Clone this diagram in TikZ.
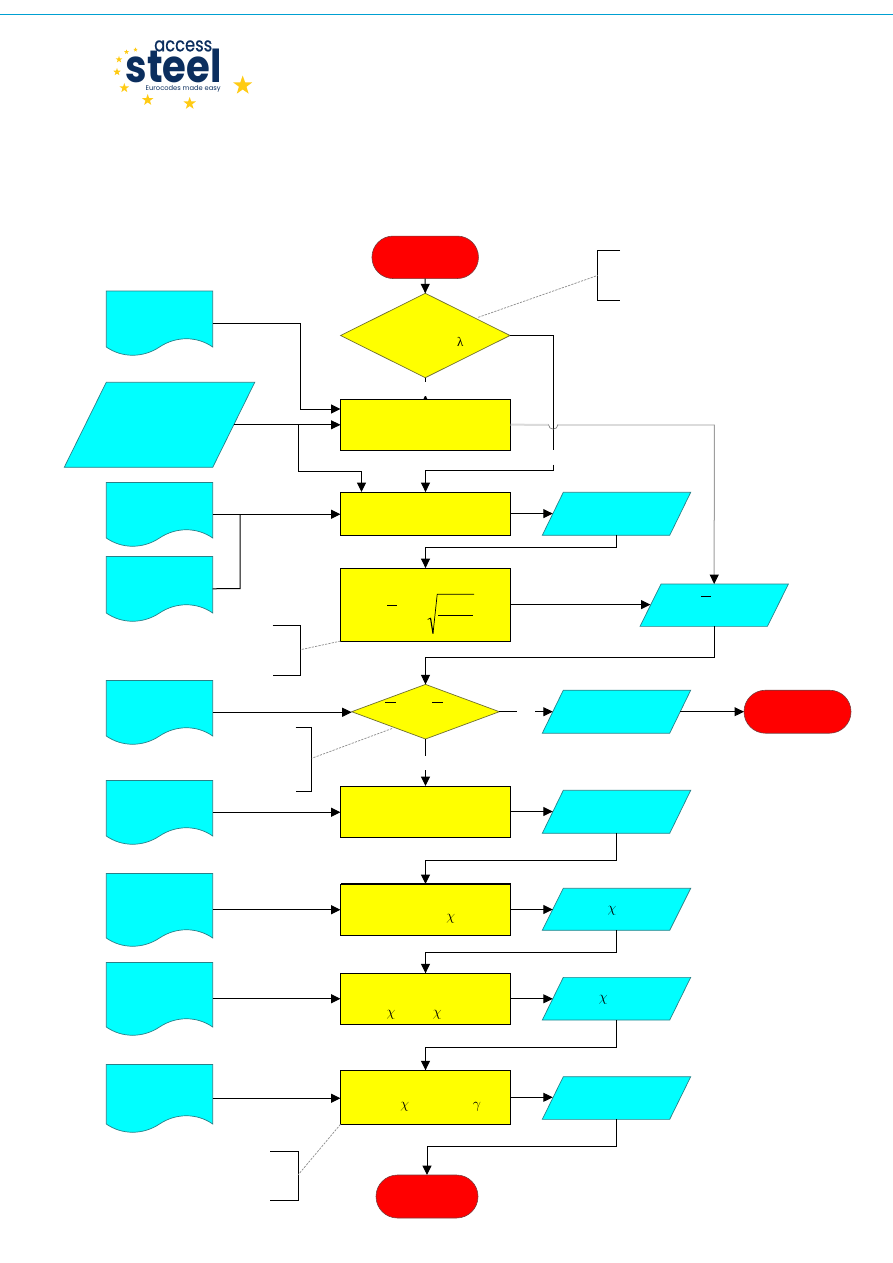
\documentclass[tikz,border=0pt]{standalone}
\usepackage{fontspec}
\usepackage{graphicx}
\setmainfont{Liberation Serif}
\newfontfamily\logofont{Poppins}
\newfontfamily\logofontmed[FakeBold=0.6]{Poppins}
\usetikzlibrary{shapes.geometric,shapes.misc,arrows.meta,calc}

\definecolor{flowcyan}{HTML}{00FFFF}
\definecolor{flowyellow}{HTML}{FFFF00}
\definecolor{flowred}{HTML}{FF0000}
\definecolor{cyanedge}{HTML}{2A8088}
\definecolor{yellowedge}{HTML}{6E6E30}
\definecolor{rededge}{HTML}{7A3A3A}
\definecolor{headrule}{HTML}{00A0D2}
\definecolor{logonavy}{HTML}{0B2E5E}
\definecolor{logostar}{HTML}{FFCB14}

\tikzset{
  tip/.tip={Triangle[length=9.5pt,width=9pt,color=black,fill=black]},
  flow/.style={draw=black,line width=1pt,-tip},
  plainflow/.style={draw=black,line width=1pt},
  note/.style={draw=black,line width=1pt},
  noteline/.style={draw=gray!90,line width=.7pt,dash pattern=on 2.2pt off 1.2pt},
  processbox/.style={rectangle,draw=black,line width=1pt,fill=flowyellow,inner sep=0pt,outer sep=0pt},
  decision/.style={diamond,draw=yellowedge,line width=.7pt,fill=flowyellow,inner sep=0pt,outer sep=0pt},
  terminal/.style={rounded rectangle,draw=rededge,line width=.6pt,fill=flowred,inner sep=0pt,outer sep=0pt},
  hiddenbox/.style={rectangle,inner sep=0pt,outer sep=0pt},
  shapefill/.style={draw=cyanedge,line width=.7pt,fill=flowcyan},
  greek/.style={inner sep=0pt,font=\fontsize{14}{14}\selectfont},
  uprightgreek/.style={inner sep=0pt,font=\fontsize{13}{13}\selectfont},
  logostarshape/.style={star,star points=5,star point ratio=2.5,fill=logostar,inner sep=0pt,outer sep=0pt},
}

% Input document: a named box with the wavy-bottomed outline drawn behind it
\newcommand{\inputdoc}[3]{%
  \node[hiddenbox,minimum width=106.4pt,minimum height=#3pt-#2pt] (#1) at (159.5,{(#2+#3)/2}) {};
  \coordinate (#1-r) at ($(#1.south east)+(0,-8)$);
  \coordinate (#1-l) at ($(#1.south west)+(0,-8)$);
  \coordinate (#1-m) at ($(#1-r)!.5!(#1-l)$);
  \path[shapefill] (#1.north west) -- (#1.north east) -- (#1-r)
    .. controls +(-15.7,-11) and +(16.5,-11) .. (#1-m)
    .. controls +(-16.5,11) and +(15.7,11) .. (#1-l) -- cycle;
}

% Data parallelogram: name, centre x, centre y, full width, height, slant offset
\newcommand{\datashape}[6]{%
  \node[hiddenbox,minimum width=#4pt,minimum height=#5pt] (#1) at (#2,#3) {};
  \coordinate (#1-w) at ($(#1.west)+(#6/2,0)$);
  \coordinate (#1-e) at ($(#1.east)+(-#6/2,0)$);
  \path[shapefill] ($(#1.north west)+(#6,0)$) -- (#1.north east)
    -- ($(#1.south east)+(-#6,0)$) -- (#1.south west) -- cycle;
}

\begin{document}
\begin{tikzpicture}[x=1pt,y=-1pt]
\useasboundingbox (0,0) rectangle (893,1263);
\fill[white] (0,0) rectangle (893,1263);

% Page header rule
\draw[headrule,line width=1.3pt] (0,14.5) -- (893,14.5);

% Logo
\node[inner sep=0pt,anchor=south west,text=logonavy] (logoaccess) at (154,51.7)
  {\resizebox{58pt}{11pt}{\logofontmed access}};
\node[inner sep=0pt,anchor=south west,text=logonavy] (logosteel) at (125.5,83)
  {\resizebox{96pt}{33.5pt}{\logofont\bfseries steel}};
\node[inner sep=0pt,anchor=base west,text=logonavy] (logotag) at (145.5,90.5)
  {\resizebox{75pt}{!}{\logofont Eurocodes made easy}};
\node[logostarshape,minimum size=20pt] (s1) at (242.7,85.5) {};
\node[logostarshape,minimum size=13pt] (s2) at (189.7,103.5) {};
\node[logostarshape,minimum size=12pt] (s3) at (147.7,100) {};
\node[logostarshape,minimum size=10pt] (s4) at (124.3,88) {};
\node[logostarshape,minimum size=8pt] (s5) at (117,72) {};
\node[logostarshape,minimum size=7pt] (s6) at (119,59.5) {};
\node[logostarshape,minimum size=5pt] (s7) at (126.5,52) {};
\node[logostarshape,minimum size=4.5pt] (s8) at (135.5,49.7) {};

% Annotation brackets
\coordinate (n1a) at (620,250.5); \coordinate (n1b) at (597.5,250.5);
\coordinate (n1c) at (597.5,300);  \coordinate (n1d) at (620,300);
\coordinate (n1m) at (597.5,275.5);
\coordinate (n2a) at (272.7,625.5); \coordinate (n2b) at (300.5,625.5);
\coordinate (n2c) at (300.5,675);  \coordinate (n2d) at (272.7,675);
\coordinate (n2m) at (300.5,649.7);
\coordinate (n3a) at (295.5,727.5); \coordinate (n3b) at (311.7,727.5);
\coordinate (n3c) at (311.7,791);  \coordinate (n3d) at (295.5,791);
\coordinate (n3m) at (311.7,758.3);
\coordinate (n4a) at (270,1151); \coordinate (n4b) at (298,1151);
\coordinate (n4c) at (298,1200);  \coordinate (n4d) at (270,1200);
\coordinate (n4m) at (298,1175);
\draw[note] (n1a) -- (n1b) -- (n1c) -- (n1d);
\draw[note] (n2a) -- (n2b) -- (n2c) -- (n2d);
\draw[note] (n3a) -- (n3b) -- (n3c) -- (n3d);
\draw[note] (n4a) -- (n4b) -- (n4c) -- (n4d);

% Input documents
\inputdoc{d1}{291}{355}
\inputdoc{d2}{482.5}{546}
\inputdoc{d3}{556.5}{621}
\inputdoc{d4}{680.5}{744}
\inputdoc{d5}{780.5}{844}
\inputdoc{d6}{873.5}{946}
\inputdoc{d7}{962.5}{1035}
\inputdoc{d8}{1064.5}{1132}

% Data parallelograms
\datashape{p1}{159.5}{424.8}{190.5}{85}{42}
\datashape{p2}{616.5}{513.8}{148.4}{43}{21}
\datashape{p3}{714.2}{605.2}{148.4}{42.3}{21}
\datashape{p4}{616.5}{711.7}{148.4}{43}{21}
\datashape{p5}{616.5}{811.8}{148.4}{43}{21}
\datashape{p6}{616.5}{909.3}{148.4}{42}{21}
\datashape{p7}{616.5}{998.7}{148.4}{42.7}{21}
\datashape{p8}{616.5}{1098}{148.4}{42.7}{21}

% Process boxes
\node[processbox,minimum width=170pt,minimum height=51pt] (b1) at (425.5,424.6) {};
\node[processbox,minimum width=170pt,minimum height=43pt] (b2) at (425.5,513.6) {};
\node[processbox,minimum width=170pt,minimum height=73pt] (b3) at (425.5,604.6) {};
\node[processbox,minimum width=170pt,minimum height=51pt] (b4) at (425.5,811.5) {};
\node[processbox,minimum width=170pt,minimum height=51pt] (b5) at (425.5,909.5) {};
\node[processbox,minimum width=170pt,minimum height=51pt] (b6) at (425.5,998.8) {};
\node[processbox,minimum width=170pt,minimum height=54pt] (b7) at (425.5,1097.3) {};
\draw[black,line width=2pt] (b5.north west) -- (b5.north east);

% Decisions
\node[decision,minimum width=169.4pt,minimum height=84.4pt,aspect=2] (c1) at (425.3,335.5) {};
\node[decision,minimum width=147.6pt,minimum height=54.6pt,aspect=2.7] (c2) at (425.5,711.7) {};

% Terminators
\node[terminal,minimum width=106.5pt,minimum height=42.5pt] (t1) at (425.2,257.3) {};
\node[terminal,minimum width=107pt,minimum height=43pt] (t2) at (797.5,711.7) {};
\node[terminal,minimum width=102pt,minimum height=43pt] (t3) at (427,1196.5) {};

% Leader lines from shapes to their annotation brackets
\coordinate (c1n) at (478.3,317.3);
\coordinate (c2n) at (392,728.5);
\draw[noteline] (c1n) -- (n1m);
\draw[noteline] (b3.south west) -- (n2m);
\draw[noteline] (c2n) -- (n3m);
\draw[noteline] (b7.south west) -- (n4m);

% Flow ends around the gaps left for branch labels
\coordinate (c1gap) at (425.3,381.7);
\coordinate (rgap) at (553.3,449.5);
\coordinate (rgapb) at (553.3,464.5);
\coordinate (c2gap) at (425.5,755.5);
\coordinate (c2gapb) at (425.5,770);
\coordinate (egap) at (517,711.7);
\coordinate (egapb) at (535,711.7);

\draw[flow] (t1) -- (c1);
\draw[plainflow] (c1.south) -- (c1gap);
\fill[black] (424.9,396) -- (425.9,396) -- (427.3,399) -- (423.5,399) -- cycle;
\draw[plainflow] (c1.east) -- (c1.east -| rgap) -- (rgap);
\draw[flow] (rgapb) -- (553.3,470) -- (425.5,470) -- (b2.north);

% Inputs to the first boxes
\draw[flow] (d1.east) -- (300,323) -- (300,409) -- (340.5,409);
\draw[flow] (p1-e) -- (p1-e -| b1.west);
\draw[flow] (298.5,424.8) -- (298.5,471.5) -- (361.5,471.5) -- (361.5,492);
\draw[flow] (d2.east) -- (d2.east -| b2.west);
\draw[plainflow] (d3.east) -- (240,588.7) -- (240,514.2);

% Gray line from the first box, with a hop over the vertical connector
\draw[draw=black!14,line width=2pt] (b1.east) -- (548.5,425);
\draw[draw=black!14,line width=2pt] (558,425) -- (714.3,425);
\draw[draw=black!55,line width=.6pt] (548.5,424.5) arc[start angle=180,end angle=0,radius=4.7];
\draw[draw=black!38,line width=1pt,-tip] (714.3,424.5) -- (p3.north);

% Main column
\draw[flow] (b2.east) -- (b2.east -| p2-w);
\draw[flow] (p2.south) -- (616.5,547) -- (425.5,547) -- (b3.north);
\draw[flow] (b3.east) -- (b3.east -| p3-w);
\draw[flow] (p3.south) -- (714.2,657.3) -- (425.5,657.3) -- (c2.north);
\draw[flow] (d4.east) -- (d4.east -| c2.west);
\draw[plainflow] (c2.east) -- (egap);
\draw[flow] (egapb) -- (p4-w);
\draw[flow] (p4-e) -- (t2.west);
\draw[plainflow] (c2.south) -- (c2gap);
\draw[flow] (c2gapb) -- (b4.north);
\draw[flow] (d5.east) -- (d5.east -| b4.west);
\draw[flow] (b4.east) -- (b4.east -| p5-w);
\draw[flow] (p5.south) -- (616.5,860) -- (425.5,860) -- (b5.north);
\draw[flow] (d6.east) -- (d6.east -| b5.west);
\draw[flow] (b5.east) -- (b5.east -| p6-w);
\draw[flow] (p6.south) -- (616.5,952.3) -- (425.5,952.3) -- (b6.north);
\draw[flow] (d7.east) -- (d7.east -| b6.west);
\draw[flow] (b6.east) -- (b6.east -| p7-w);
\draw[flow] (p7.south) -- (616.5,1047.3) -- (425.5,1047.3) -- (b7.north);
\draw[flow] (d8.east) -- (d8.east -| b7.west);
\draw[flow] (b7.east) -- (b7.east -| p8-w);
\draw[flow] (p8.south) -- (616.5,1146.3) -- (427,1146.3) -- (t3.north);

% Formula fragments
\node[uprightgreek] (g1) at (460.3,341.5) {λ};
\node[greek] (g2) at (450.7,918.3) {$\chi$};
\node[greek] (g3) at (612,910.7) {$\chi$};
\node[greek] (g4) at (391,1015) {$\chi$};
\node[greek] (g5) at (437.3,1015) {$\chi$};
\node[greek] (g6) at (603.3,1000) {$\chi$};
\node[greek] (g7) at (404.7,1107) {$\chi$};
\node[greek] (g8) at (477,1107) {$\gamma$};

\draw[black,line width=.8pt] (387.3,605.3) -- (397,605.3);
\draw[black,line width=.8pt] (385,702.3) -- (395.7,702.3);
\draw[black,line width=.8pt] (432,702.3) -- (442.7,702.3);
\draw[black,line width=.8pt] (701.3,596.5) -- (711,596.5);
\draw[black,line width=.7pt] (427.7,619.5) -- (430.5,618);
\draw[black,line width=1.1pt] (430.5,618) -- (433,633.5);
\draw[black,line width=.7pt] (433,633.5) -- (437.2,594.3) -- (474,594.3);
\draw[black,line width=.8pt] (438.3,615.3) -- (473,615.3);
\end{tikzpicture}
\end{document}
